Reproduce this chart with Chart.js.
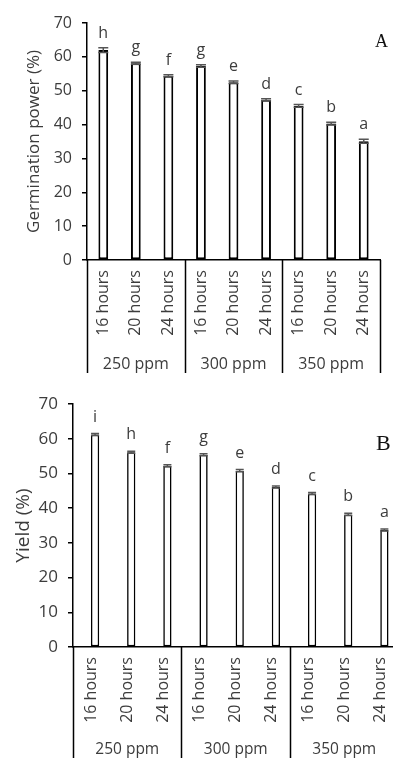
<!DOCTYPE html>
<html>
<head>
<meta charset="utf-8">
<script src="https://cdn.jsdelivr.net/npm/chart.js@4.4.1/dist/chart.umd.min.js"></script>
<style>
  html, body { margin: 0; padding: 0; background: #fff; overflow: hidden; width: 393px; height: 758px; }
  .box { position: absolute; left: 0; }
  #boxA { top: 0; width: 393px; height: 376px; }
  #boxB { top: 378px; width: 410px; height: 380px; }
</style>
</head>
<body>
<div class="box" id="boxA"><canvas id="chartA" width="393" height="376"></canvas></div>
<div class="box" id="boxB"><canvas id="chartB" width="410" height="380"></canvas></div>
<script>
// categories
var hours = ["16 hours", "20 hours", "24 hours", "16 hours", "20 hours", "24 hours", "16 hours", "20 hours", "24 hours"];
var doses = ["250 ppm", "300 ppm", "350 ppm"];

// panel A: germination power
var germPower = [62.0, 58.1, 54.4, 57.3, 52.5, 47.3, 45.5, 40.3, 35.1];
var germErr = [0.7, 0.3, 0.3, 0.4, 0.4, 0.3, 0.4, 0.4, 0.6];
var germLetters = ["h", "g", "f", "g", "e", "d", "c", "b", "a"];

// panel B: yield
var yieldVals = [61.2, 56.1, 52.2, 55.4, 50.8, 46.1, 44.2, 38.2, 33.7];
var yieldErr = [0.3, 0.3, 0.3, 0.3, 0.3, 0.3, 0.3, 0.3, 0.3];
var yieldLetters = ["i", "h", "f", "g", "e", "d", "c", "b", "a"];

var yTicks = [0, 10, 20, 30, 40, 50, 60, 70];

const FONT = "'Open Sans', sans-serif";
const TXT = "#3c3c3c";

// error bars + significance letters
const marksPlugin = {
  id: "marks",
  afterDatasetsDraw(chart, args, opts) {
    const ctx = chart.ctx;
    const y = chart.scales.y;
    const meta = chart.getDatasetMeta(opts.ds);
    const vals = chart.data.datasets[opts.ds].data;
    ctx.save();
    meta.data.forEach(function (bar, i) {
      const top = y.getPixelForValue(vals[i] + opts.err[i]);
      const bot = y.getPixelForValue(vals[i] - opts.err[i]);
      ctx.strokeStyle = "#555";
      ctx.lineWidth = 1.5;
      ctx.beginPath();
      ctx.moveTo(bar.x, top);
      ctx.lineTo(bar.x, bot);
      ctx.moveTo(bar.x - opts.cap, top);
      ctx.lineTo(bar.x + opts.cap, top);
      ctx.moveTo(bar.x - opts.cap, bot);
      ctx.lineTo(bar.x + opts.cap, bot);
      ctx.stroke();
      ctx.fillStyle = TXT;
      ctx.font = "16px " + FONT;
      ctx.textAlign = "center";
      ctx.textBaseline = "alphabetic";
      ctx.fillText(opts.letters[i], bar.x, top - opts.gap);
    });
    ctx.restore();
  },
};

// two-level category axis: group boxes and dose labels
const groupPlugin = {
  id: "groups",
  afterDraw(chart, args, opts) {
    const ctx = chart.ctx;
    const x = chart.scales.x;
    const n = chart.data.labels.length;
    const per = n / opts.groups.length;
    const edge = function (k) {
      if (k === 0) return x.left;
      if (k === n) return x.right;
      return (x.getPixelForTick(k - 1) + x.getPixelForTick(k)) / 2;
    };
    ctx.save();
    ctx.strokeStyle = "#000";
    ctx.lineWidth = 1.5;
    ctx.beginPath();
    for (let g = 0; g <= opts.groups.length; g++) {
      const px = Math.round(edge(g * per)) + 0.5;
      ctx.moveTo(px, x.top);
      ctx.lineTo(px, opts.bottom);
    }
    ctx.stroke();
    ctx.fillStyle = TXT;
    ctx.font = opts.groupSize + "px " + FONT;
    ctx.textAlign = "center";
    ctx.textBaseline = "middle";
    opts.groups.forEach(function (name, g) {
      const cx = (edge(g * per) + edge((g + 1) * per)) / 2;
      ctx.fillText(name, cx, opts.labelY);
    });
    // panel letter
    ctx.font = opts.tagSize + "px 'Liberation Serif', serif";
    ctx.fillStyle = "#111";
    ctx.textAlign = "left";
    ctx.textBaseline = "alphabetic";
    ctx.fillText(opts.tag, opts.tagX, opts.tagY);
    ctx.restore();
  },
};

function makeChart(id, datasets, errs, letters, cfg) {
  return new Chart(document.getElementById(id), {
    type: "bar",
    data: {
      labels: hours,
      datasets: datasets,
    },
    options: {
      responsive: false,
      animation: false,
      events: [],
      layout: { padding: cfg.padding },
      plugins: {
        legend: { display: false },
        tooltip: { enabled: false },
        marks: { ds: datasets.length - 1, err: errs, letters: letters, cap: cfg.cap, gap: cfg.gap },
        groups: {
          groups: doses,
          groupSize: cfg.groupSize,
          bottom: cfg.boxBottom,
          labelY: cfg.groupY,
          tag: cfg.tag,
          tagX: cfg.tagX,
          tagY: cfg.tagY,
          tagSize: cfg.tagSize,
        },
      },
      scales: {
        x: {
          grid: { display: false, drawTicks: false },
          border: { display: true, color: "#000", width: 1.5 },
          ticks: {
            minRotation: 90,
            maxRotation: 90,
            padding: cfg.xPad,
            color: TXT,
            font: { family: FONT, size: 16 },
          },
          afterFit: function (scale) {
            scale.height = cfg.xHeight;
          },
        },
        y: {
          min: 0,
          max: 70,
          grid: { drawOnChartArea: false, drawTicks: true, tickLength: 5, color: "#000", lineWidth: 1.5 },
          border: { display: true, color: "#000", width: 1.5 },
          ticks: {
            stepSize: 5,
            padding: 10,
            color: TXT,
            font: { family: FONT, size: cfg.tickSize },
            callback: function (v) {
              return yTicks.indexOf(v) >= 0 ? v : "";
            },
          },
          title: {
            display: true,
            text: cfg.yTitle,
            color: TXT,
            font: { family: FONT, size: cfg.titleSize },
            padding: { top: cfg.titlePad, bottom: 0 },
          },
          afterFit: function (scale) {
            scale.width = cfg.yWidth;
          },
        },
      },
    },
    plugins: [marksPlugin, groupPlugin],
  });
}

function barSet(values, pctCat, pctBar, border) {
  return {
    data: values,
    backgroundColor: "#fff",
    borderColor: "#000",
    borderWidth: border,
    borderSkipped: false,
    categoryPercentage: pctCat,
    barPercentage: pctBar,
  };
}

makeChart("chartA", [barSet(germPower, 1, 0.3, 2)], germErr, germLetters, {
  padding: { top: 23, left: 0, right: 1, bottom: 0 },
  yWidth: 87,
  xHeight: 116,
  xPad: 10,
  cap: 5,
  gap: 10,
  tickSize: 16,
  titleSize: 17,
  groupSize: 16,
  boxBottom: 373,
  groupY: 364,
  yTitle: "Germination power (%)",
  titlePad: 24,
  tag: "A",
  tagX: 375,
  tagY: 47,
  tagSize: 18,
});

// panel B: an empty first series pushes the bars a little right of the category centre
var emptySeries = yieldVals.map(function () { return null; });
makeChart("chartB", [barSet(emptySeries, 0.44, 1.04, 0), barSet(yieldVals, 0.44, 1.04, 1.6)], yieldErr, yieldLetters, {
  padding: { top: 26, left: 0, right: 7, bottom: 0 },
  yWidth: 73,
  xHeight: 111,
  xPad: 10,
  cap: 4,
  gap: 12,
  tickSize: 17,
  titleSize: 19,
  groupSize: 15.5,
  boxBottom: 380,
  groupY: 372,
  yTitle: "Yield (%)",
  titlePad: 12,
  tag: "B",
  tagX: 376,
  tagY: 72,
  tagSize: 22,
});
</script>
</body>
</html>
